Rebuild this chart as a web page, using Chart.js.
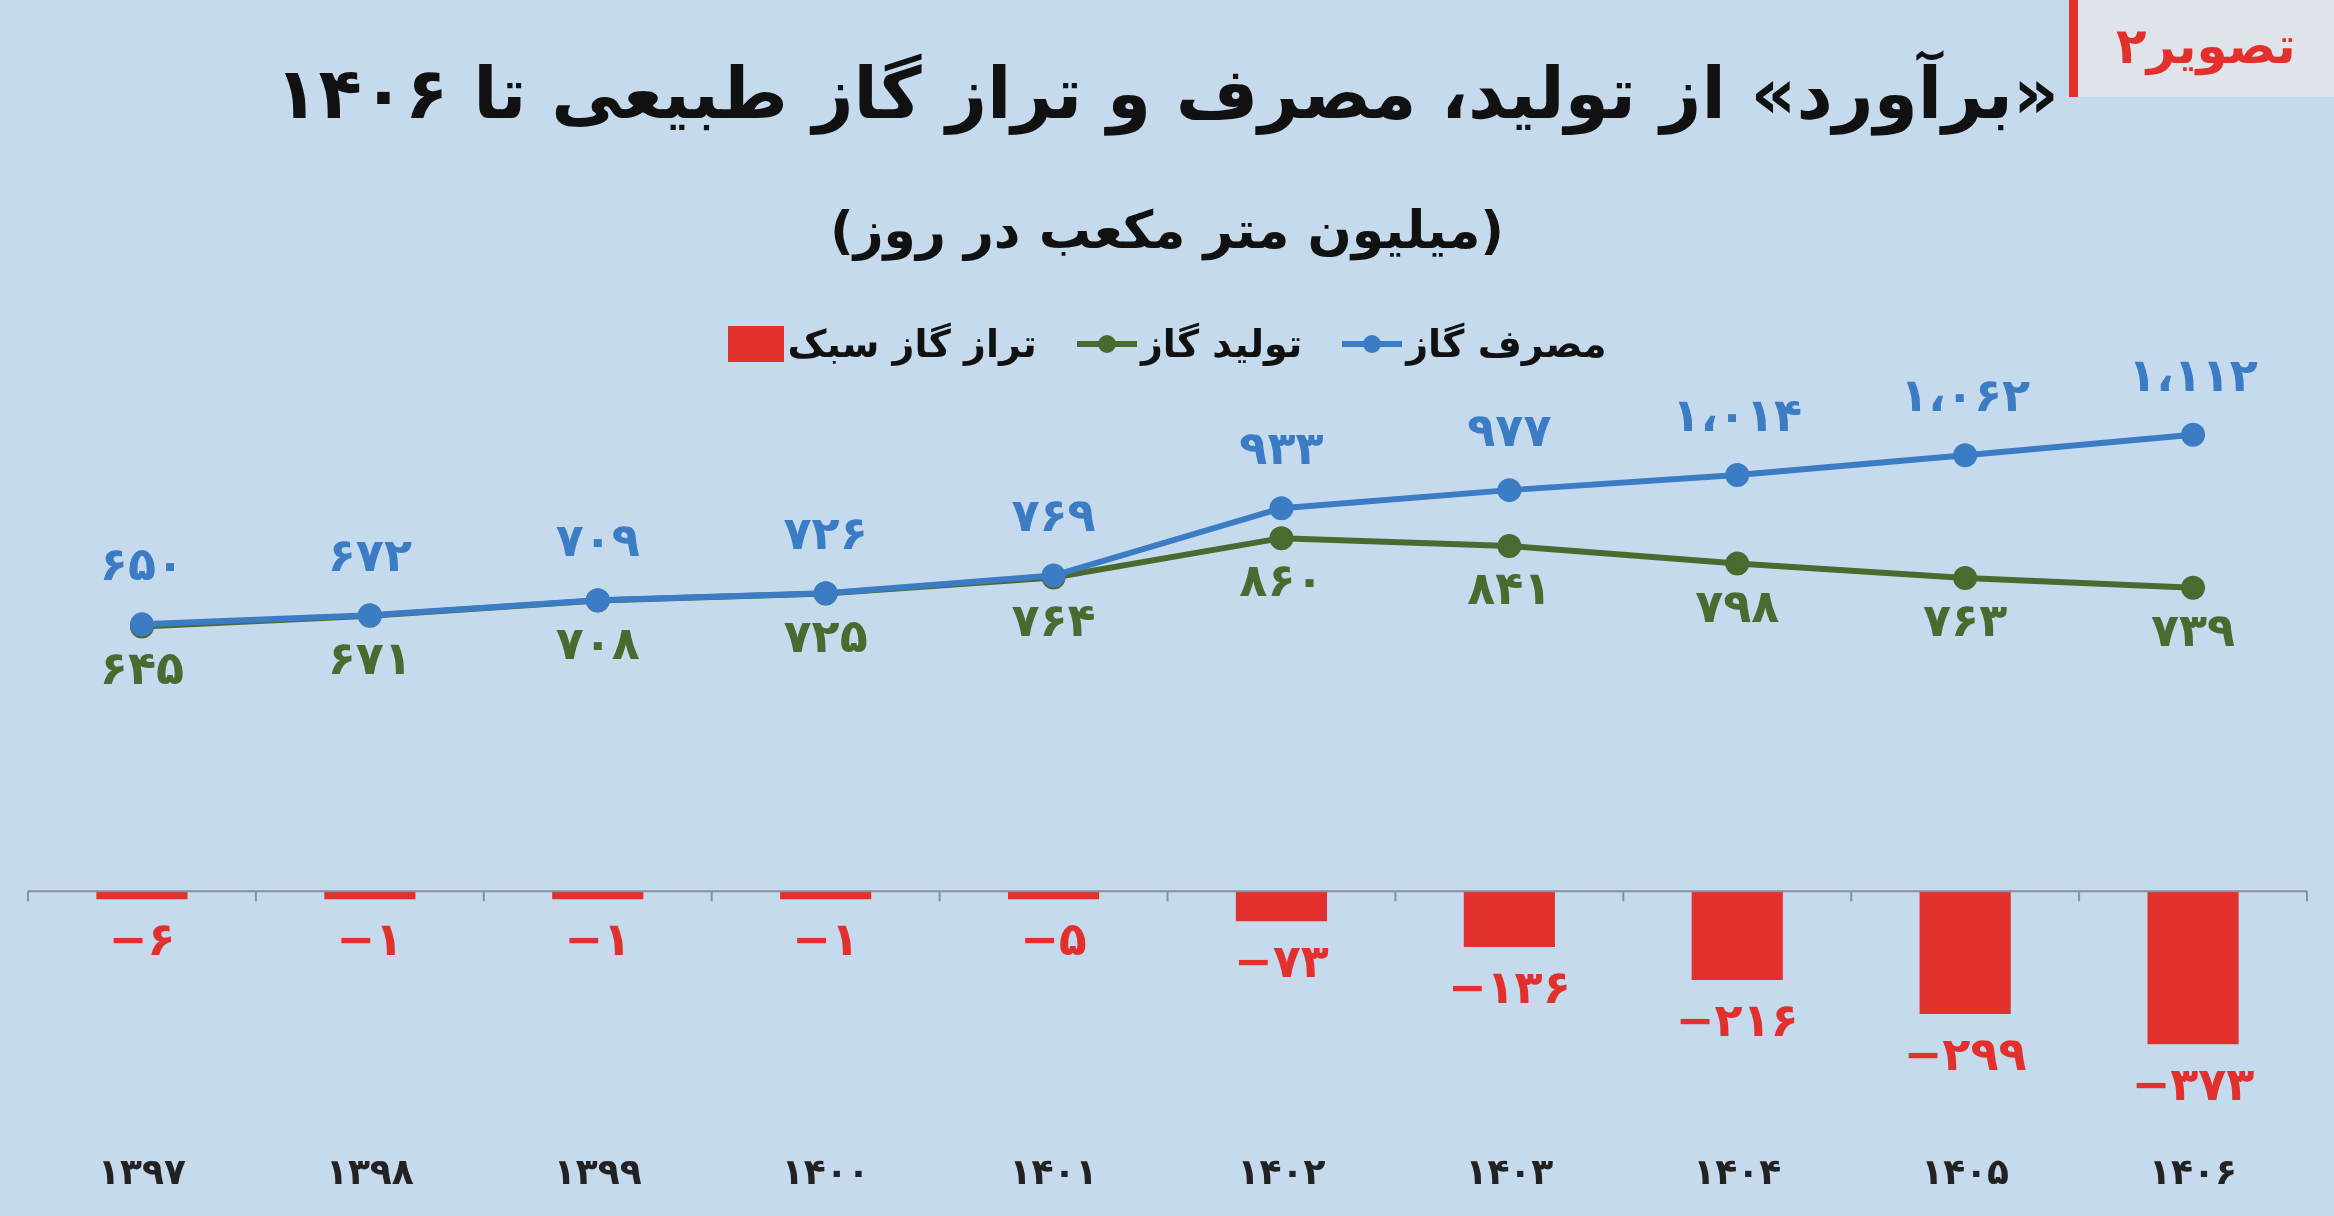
<!DOCTYPE html>
<html><head><meta charset="utf-8">
<script src="https://cdn.jsdelivr.net/npm/chart.js@4"></script>
<style>
html,body{margin:0;padding:0;background:#c6daee;width:2334px;height:1216px;overflow:hidden;font-family:"DejaVu Sans",sans-serif;}
#wrap{position:relative;width:2334px;height:1216px;}
canvas{position:absolute;left:0;top:0;}
.t{position:absolute;left:0;width:2334px;text-align:center;direction:rtl;font-weight:bold;color:#111;}
#tag{position:absolute;right:0;top:0;width:256px;height:97px;background:#dfe4ea;border-left:9px solid #e2312d;direction:rtl;color:#e2312d;font-weight:bold;font-size:50px;line-height:92px;text-align:center;}
#legend{position:absolute;top:322px;left:0;width:2334px;display:flex;justify-content:center;direction:rtl;font-weight:bold;font-size:38px;color:#111;gap:40px;}
.li{display:flex;align-items:center;gap:4px;}
</style></head><body><div id="wrap">
<canvas id="c" width="2334" height="1216"></canvas>
<div class="t" style="top:52px;font-size:71px;">«برآورد» از تولید، مصرف و تراز گاز طبیعی تا ۱۴۰۶</div>
<div class="t" style="top:200px;font-size:52px;">(میلیون متر مکعب در روز)</div>
<div id="tag">تصویر۲</div>
<div id="legend">
 <div class="li"><span>مصرف گاز</span><svg width="60" height="30"><line x1="0" y1="15" x2="60" y2="15" stroke="#3b7cc4" stroke-width="6"/><circle cx="30" cy="15" r="9" fill="#3b7cc4"/></svg></div>
 <div class="li"><span>تولید گاز</span><svg width="60" height="30"><line x1="0" y1="15" x2="60" y2="15" stroke="#4b6a2f" stroke-width="6"/><circle cx="30" cy="15" r="9" fill="#4b6a2f"/></svg></div>
 <div class="li"><span>تراز گاز سبک</span><svg width="56" height="36"><rect x="0" y="0" width="56" height="36" fill="#e2312d"/></svg></div>
</div>
</div>
<script>
const categories=["۱۳۹۷","۱۳۹۸","۱۳۹۹","۱۴۰۰","۱۴۰۱","۱۴۰۲","۱۴۰۳","۱۴۰۴","۱۴۰۵","۱۴۰۶"];
const consumption=[650,672,709,726,769,933,977,1014,1062,1112];
const production=[645,671,708,725,764,860,841,798,763,739];
const balance=[-6,-1,-1,-1,-5,-73,-136,-216,-299,-373];
const BLUE="#3b7cc4",GREEN="#4b6a2f",RED="#e2312d";
function fa(n){const neg=n<0;let s=String(Math.abs(n));if(s.length>3)s=s.slice(0,-3)+"،"+s.slice(-3);s=s.replace(/\d/g,d=>"۰۱۲۳۴۵۶۷۸۹"[d]);return (neg?"−":"")+s;}
const labelsPlugin={id:"lbl",afterDatasetsDraw(ch){const c=ch.ctx;c.save();c.font="bold 46px 'DejaVu Sans'";c.textAlign="center";c.textBaseline="middle";
 ch.data.datasets.forEach((ds,i)=>{const m=ch.getDatasetMeta(i);m.data.forEach((el,j)=>{c.fillStyle=ds.borderColor;
  let y;if(i===0)y=el.y-56;else if(i===1)y=el.y+46;else y=Math.max(el.y,el.base+6)+44;
  c.fillText(fa(ds.data[j]),el.x,y);});});
 const y0=ch.scales.y.getPixelForValue(0);c.strokeStyle="#8a9099";c.lineWidth=2;c.beginPath();c.moveTo(ch.chartArea.left,y0);c.lineTo(ch.chartArea.right,y0);
 for(let k=0;k<=categories.length;k++){const x=ch.chartArea.left+k*(ch.chartArea.right-ch.chartArea.left)/categories.length;c.moveTo(x,y0);c.lineTo(x,y0+10);}c.stroke();c.restore();}};
new Chart(document.getElementById("c"),{
 data:{labels:categories,datasets:[
  {type:"line",data:consumption,borderColor:BLUE,backgroundColor:BLUE,borderWidth:6,pointRadius:9,pointBackgroundColor:BLUE,tension:0,order:1},
  {type:"line",data:production,borderColor:GREEN,backgroundColor:GREEN,borderWidth:6,pointRadius:9,pointBackgroundColor:GREEN,tension:0,order:2},
  {type:"bar",data:balance,backgroundColor:RED,borderColor:RED,barPercentage:0.4,categoryPercentage:1,minBarLength:8,order:3}]},
 options:{responsive:false,animation:false,devicePixelRatio:1,
  layout:{padding:{left:28,right:27,top:298,bottom:0}},
  plugins:{legend:{display:false},tooltip:{enabled:false}},
  scales:{x:{offset:true,grid:{display:false},border:{display:false},ticks:{color:"#222",font:{family:"DejaVu Sans",size:36,weight:"bold"},padding:20}},
   y:{display:false,min:-569,max:1445}}},
 plugins:[labelsPlugin]});
</script></body></html>
